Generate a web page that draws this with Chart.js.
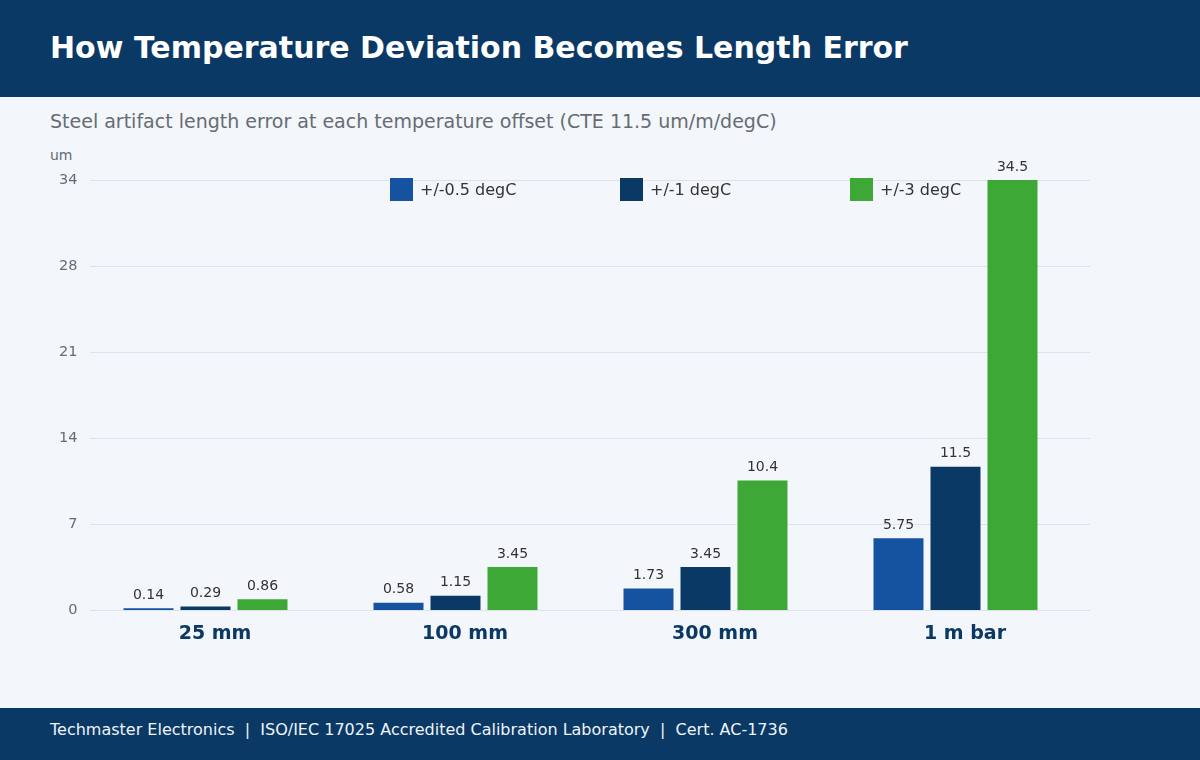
<!DOCTYPE html>
<html lang="en">
<head>
    <meta charset="UTF-8">
    <title>How Temperature Deviation Becomes Length Error</title>
    <script src="https://cdn.jsdelivr.net/npm/chart.js"></script>
    <style>
        body { margin: 0; width: 1200px; height: 760px; background: #f3f6fa; font-family: "DejaVu Sans", sans-serif; position: relative; overflow: hidden; }
        .header { position: absolute; left: 0; top: 0; width: 1200px; height: 97px; background: #0b3966; }
        .header h1 { margin: 0; position: absolute; left: 50px; top: 29px; font-size: 30px; font-weight: bold; color: #fff; line-height: 38px; white-space: nowrap; }
        .subtitle { position: absolute; left: 50px; top: 110px; font-size: 19px; color: #666c73; line-height: 23px; white-space: nowrap; }
        .unit { position: absolute; left: 50px; top: 147px; font-size: 14px; color: #666c73; }
        .legend { position: absolute; top: 178px; left: 390px; z-index: 2; }
        .legend-item { position: absolute; top: 0; display: flex; align-items: center; white-space: nowrap; font-size: 16px; color: #333; height: 23px; }
        .legend-box { width: 23px; height: 23px; margin-right: 7px; }
        .chart-wrap { position: absolute; left: 0; top: 97px; width: 1200px; height: 611px; z-index: 1; }
        .footer { position: absolute; left: 0; top: 708px; width: 1200px; height: 52px; background: #0b3966; }
        .footer span { position: absolute; left: 50px; top: 12px; font-size: 16px; color: #eef3f8; white-space: pre; }
    </style>
</head>
<body>
    <div class="header"><h1>How Temperature Deviation Becomes Length Error</h1></div>
    <div class="subtitle">Steel artifact length error at each temperature offset (CTE 11.5 um/m/degC)</div>
    <div class="unit">um</div>
    <div class="chart-wrap"><canvas id="lengthChart"></canvas></div>
    <div class="legend" id="legend"></div>
    <div class="footer"><span>Techmaster Electronics  |  ISO/IEC 17025 Accredited Calibration Laboratory  |  Cert. AC-1736</span></div>

    <script>
        const categories = ['25 mm', '100 mm', '300 mm', '1 m bar'];
        const seriesNames = ['+/-0.5 degC', '+/-1 degC', '+/-3 degC'];
        const seriesColors = ['#1553a0', '#0b3966', '#3da836'];
        const halfDeg = [0.14, 0.58, 1.73, 5.75];
        const oneDeg = [0.29, 1.15, 3.45, 11.5];
        const threeDeg = [0.86, 3.45, 10.4, 34.5];
        const yTickValues = [0, 6.9, 13.8, 20.7, 27.6, 34.5];
        const yTickLabels = ['0', '7', '14', '21', '28', '34'];

        const seriesData = [halfDeg, oneDeg, threeDeg];

        // the bar groups sit a bit left of the category labels in the original
        const GROUP_SHIFT = 9.5;

        // legend, evenly spaced like the original
        const legendDiv = document.getElementById('legend');
        seriesNames.forEach((name, i) => {
            const item = document.createElement('div');
            item.className = 'legend-item';
            item.style.left = (i * 230) + 'px';
            item.innerHTML = `<div class="legend-box" style="background:${seriesColors[i]}"></div>${name}`;
            legendDiv.appendChild(item);
        });

        // horizontal grid lines, drawn a little wider to the right of the bar area
        const gridLines = {
            id: 'gridLines',
            beforeDatasetsDraw(chart) {
                const ctx = chart.ctx;
                const area = chart.chartArea;
                const y = chart.scales.y;
                ctx.save();
                ctx.strokeStyle = '#dde3ea';
                ctx.lineWidth = 1;
                y.ticks.forEach(t => {
                    const py = Math.round(y.getPixelForValue(t.value)) + 0.5;
                    ctx.beginPath();
                    ctx.moveTo(area.left + GROUP_SHIFT, py);
                    ctx.lineTo(area.right + GROUP_SHIFT, py);
                    ctx.stroke();
                });
                ctx.restore();
            }
        };

        const valueLabels = {
            id: 'valueLabels',
            afterDatasetsDraw(chart) {
                const ctx = chart.ctx;
                ctx.save();
                ctx.font = '14px "DejaVu Sans"';
                ctx.fillStyle = '#333333';
                ctx.textAlign = 'center';
                ctx.textBaseline = 'bottom';
                chart.data.datasets.forEach((ds, di) => {
                    chart.getDatasetMeta(di).data.forEach((bar, i) => {
                        ctx.fillText(String(ds.data[i]), bar.x, bar.y - 6);
                    });
                });
                ctx.restore();
            }
        };

        new Chart(document.getElementById('lengthChart'), {
            type: 'bar',
            data: {
                labels: categories,
                datasets: seriesNames.map((name, i) => ({
                    label: name,
                    data: seriesData[i],
                    backgroundColor: seriesColors[i],
                    borderWidth: 0,
                    categoryPercentage: 0.684,
                    barPercentage: 0.877
                }))
            },
            options: {
                responsive: true,
                maintainAspectRatio: false,
                animation: false,
                layout: { padding: { top: 83, right: 119.5, bottom: 0, left: 0 } },
                plugins: {
                    legend: { display: false },
                    tooltip: { enabled: false }
                },
                scales: {
                    x: {
                        grid: { display: false, drawTicks: false },
                        border: { display: false },
                        ticks: {
                            padding: 13,
                            labelOffset: GROUP_SHIFT,
                            color: '#0b3966',
                            font: { family: 'DejaVu Sans', size: 19, weight: 'bold' }
                        },
                        afterFit(axis) { axis.height = 98; }
                    },
                    y: {
                        min: 0,
                        max: 34.5,
                        afterBuildTicks(axis) {
                            axis.ticks = yTickValues.map(v => ({ value: v }));
                        },
                        afterFit(axis) { axis.width = 80.5; },
                        grid: { display: false, drawTicks: false },
                        border: { display: false },
                        ticks: {
                            padding: 3,
                            color: '#666c73',
                            font: { family: 'DejaVu Sans', size: 14.5 },
                            callback: (value, index) => yTickLabels[index]
                        }
                    }
                }
            },
            plugins: [gridLines, valueLabels]
        });
    </script>
</body>
</html>
